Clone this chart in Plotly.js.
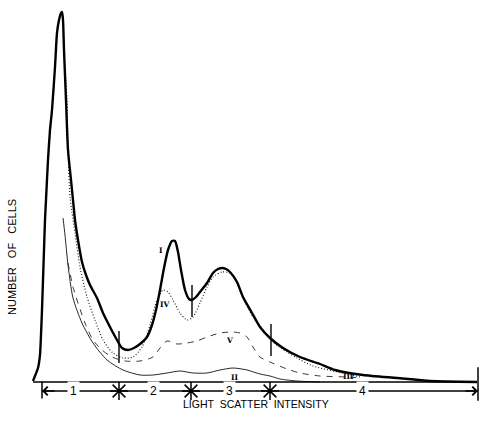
<!DOCTYPE html>
<html><head><meta charset="utf-8">
<script src="https://cdn.plot.ly/plotly-3.0.1.min.js"></script>
<style>html,body{margin:0;padding:0;background:#fff}#chart{width:479px;height:421px}</style>
</head><body><div id="chart"></div>
<script>
// x = light scatter channel, y = number of cells (arbitrary units)
const totalX = [0,2,5,7,8,9,10,11,12,13,15,17,19,22,24,26,28,29,30,31,33,35,38,40,42,45,49,53,57,64,70,77,84,89,95,101,107,114,119,123,127,131,135,139,142,145,148,152,156,159,163,167,174,180,185,189,193,197,204,210,219,227,237,250,267,287,302,330,364,397,444];
const totalY = [1,6,14,27,47,72,102,132,162,182,222,252,272,315,349,362,369,370,362,332,282,232,202,182,162,142,120,107,97,84,69,55,42,34,32,34,38,45,57,72,92,114,132,141,141,130,112,92,83,82,85,90,99,109,113,114,113,110,100,85,69,55,44,34,25,18,12,7,4,1,0];

const dottedX = [32,34,35,37,39,42,47,54,62,70,80,90,100,109,117,124,130,135,140,147,154,160,167,174,180,189,197,204,210,220,230,240,254,264,280,314,327];
const dottedY = [317,282,232,185,170,149,115,85,62,42,29,24,25,35,57,82,92,90,82,69,62,65,79,95,105,110,109,99,84,65,52,40,30,24,16,8,5];

const dashedX = [35,40,45,52,60,69,79,92,107,120,127,134,144,154,164,174,187,199,207,214,220,227,237,254,267,287,314,329];
const dashedY = [119,95,79,59,42,32,25,21,21,25,34,41,38,39,41,45,49,50,49,45,35,25,20,13,9,6,5,4];

const thinX = [30,32,35,40,49,60,74,90,107,120,134,147,160,174,187,200,214,227,237,247,264,287];
const thinY = [164,147,117,84,59,39,22,12,7,7,9,11,9,9,12,14,12,8,6,3,1,0];

// region boundaries on the light-scatter axis
const regionBounds = [9, 86, 158, 237, 445];
const regionNames = ["1", "2", "3", "4"];
const regionLabelX = [40, 120, 196, 329];
const boundaryTickX = [86, 159, 238];
const boundaryTickY = [35, 81, 42];

// component labels
const compLabels = ["I", "IV", "V", "II", "III"];
const compLabelX = [128, 132, 196, 202, 315];
const compLabelY = [132, 78, 42, 5, 6];

const BAR_Y = -9;
const traces = [
  {x: thinX, y: thinY, mode: 'lines', line: {color: '#111', width: 0.9, shape: 'spline', smoothing: 0.7}},
  {x: dashedX, y: dashedY, mode: 'lines', line: {color: '#222', width: 0.9, dash: '6px,6px', shape: 'spline', smoothing: 0.7}},
  {x: dottedX, y: dottedY, mode: 'lines', line: {color: '#111', width: 1.1, dash: '1px,2px', shape: 'spline', smoothing: 0.7}},
  {x: totalX, y: totalY, mode: 'lines', line: {color: '#000', width: 2.4, shape: 'spline', smoothing: 0.6}},
  // baseline
  {x: [totalX[0], totalX[totalX.length-1]], y: [0, 0], mode: 'lines', line: {color: '#000', width: 1.6}},
  // boundary ticks on total curve
  {x: boundaryTickX, y: boundaryTickY, mode: 'markers', marker: {symbol: 'line-ns', size: 23, line: {color: '#000', width: 1.4}}},
  // region bar
  {x: [regionBounds[0], regionBounds[regionBounds.length-1]], y: [BAR_Y, BAR_Y], mode: 'lines', line: {color: '#000', width: 1.4}},
  {x: regionBounds.slice(1, -1), y: regionBounds.slice(1, -1).map(() => BAR_Y), mode: 'markers',
   marker: {symbol: 'asterisk', size: 15, line: {color: '#000', width: 1.5}}},
  {x: [regionBounds[0]], y: [BAR_Y + 1], mode: 'markers', marker: {symbol: 'line-ns', size: 12, line: {color: '#000', width: 1.5}}},
  {x: [regionBounds[regionBounds.length-1]], y: [BAR_Y + 7], mode: 'markers', marker: {symbol: 'line-ns', size: 24, line: {color: '#000', width: 1.5}}}
];

const annotations = [];
regionNames.forEach((t, i) => annotations.push({x: regionLabelX[i], y: BAR_Y, text: t, showarrow: false,
  bgcolor: '#fff', borderpad: 2, font: {family: 'Liberation Sans, Arial', size: 12, color: '#000'}}));
// arrowheads at the two ends of the region bar
annotations.push({x: regionBounds[0], y: BAR_Y, ax: regionBounds[0] + 14, ay: BAR_Y, axref: 'x', ayref: 'y',
  text: '', showarrow: true, arrowhead: 4, arrowsize: 1.3, arrowwidth: 1.3, arrowcolor: '#000'});
annotations.push({x: regionBounds[regionBounds.length-1], y: BAR_Y, ax: regionBounds[regionBounds.length-1] - 14, ay: BAR_Y, axref: 'x', ayref: 'y',
  text: '', showarrow: true, arrowhead: 4, arrowsize: 1.3, arrowwidth: 1.3, arrowcolor: '#000'});
compLabels.forEach((t, i) => annotations.push({x: compLabelX[i], y: compLabelY[i], text: '<b>' + t + '</b>', showarrow: false,
  font: {family: 'DejaVu Serif', size: 7.5, color: '#000'}}));
// axis titles
annotations.push({x: 223, y: -22, text: 'LIGHT\u00a0 SCATTER\u00a0 INTENSITY', showarrow: false,
  font: {family: 'Liberation Sans, Arial', size: 10.5, color: '#000'}});
annotations.push({x: -21, y: 125, text: 'NUMBER\u00a0\u00a0 OF\u00a0\u00a0 CELLS', showarrow: false, textangle: -90,
  font: {family: 'Liberation Sans, Arial', size: 11, color: '#000'}});

const layout = {
  width: 479, height: 421,
  margin: {l: 0, r: 0, t: 0, b: 0},
  paper_bgcolor: '#fff', plot_bgcolor: '#fff',
  showlegend: false,
  xaxis: {range: [-33, 446], visible: false, fixedrange: true},
  yaxis: {range: [-39, 382], visible: false, fixedrange: true},
  annotations: annotations
};
Plotly.newPlot('chart', traces, layout, {staticPlot: true});
</script>
</body></html>
